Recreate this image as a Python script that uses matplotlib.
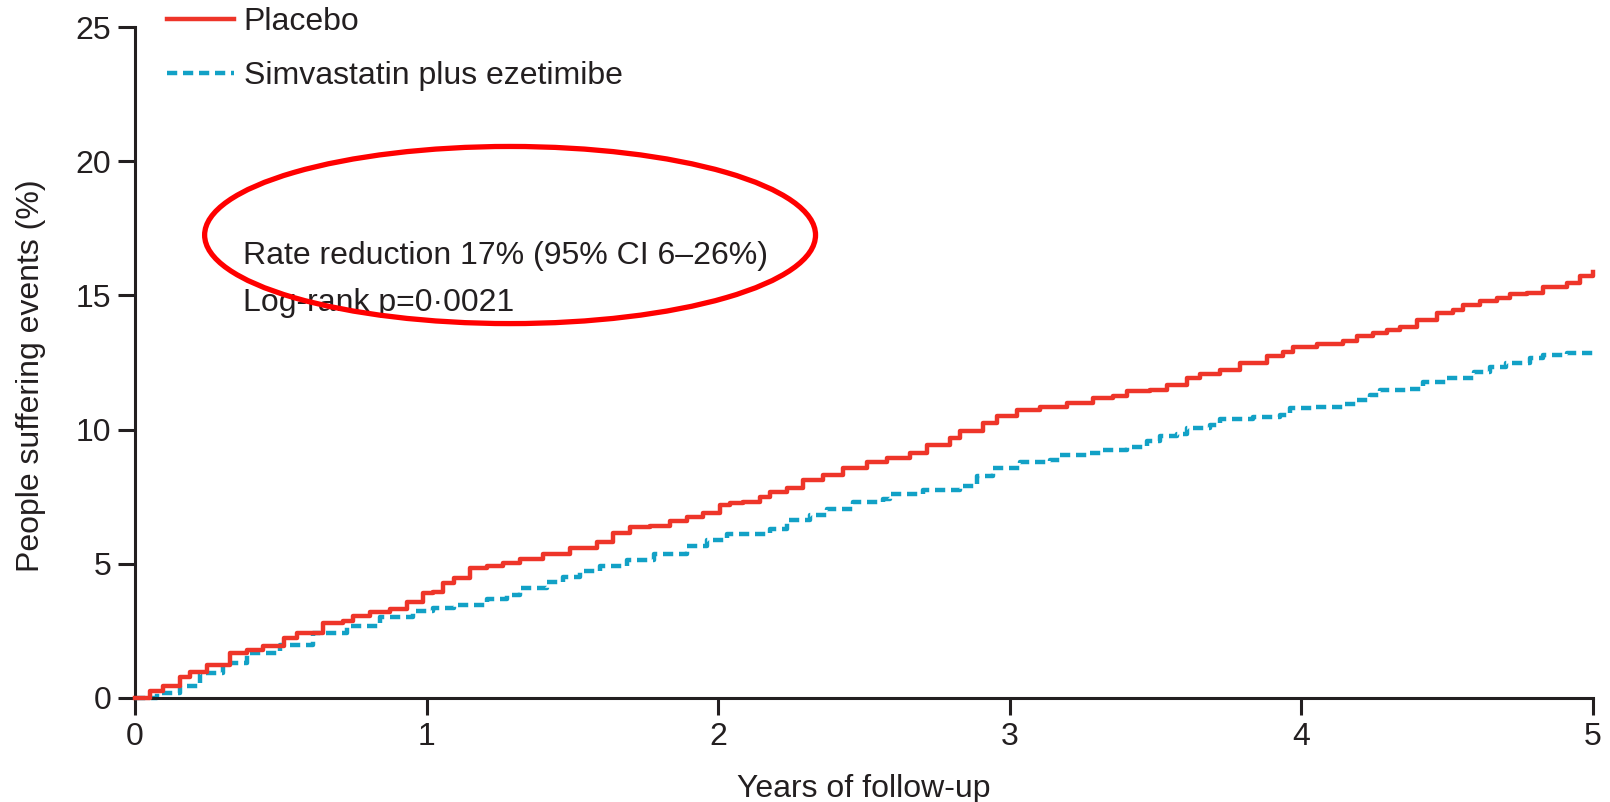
import matplotlib
matplotlib.use("Agg")
import matplotlib.pyplot as plt
from matplotlib.patches import Ellipse

placebo_t = [0.000, 0.051, 0.097, 0.154, 0.189, 0.246, 0.326, 0.383, 0.440, 0.509,
             0.554, 0.646, 0.714, 0.749, 0.806, 0.875, 0.932, 0.989, 1.023, 1.057,
             1.092, 1.149, 1.206, 1.263, 1.320, 1.400, 1.492, 1.583, 1.640, 1.698,
             1.766, 1.835, 1.892, 1.949, 2.006, 2.040, 2.086, 2.143, 2.178, 2.235,
             2.292, 2.360, 2.429, 2.509, 2.578, 2.658, 2.715, 2.795, 2.829, 2.909,
             2.955, 3.024, 3.104, 3.195, 3.286, 3.355, 3.401, 3.481, 3.538, 3.607,
             3.652, 3.721, 3.790, 3.881, 3.938, 3.972, 4.052, 4.144, 4.189, 4.246,
             4.292, 4.338, 4.395, 4.464, 4.521, 4.555, 4.612, 4.669, 4.715, 4.772,
             4.829, 4.909, 4.955, 5.000]
placebo_pct = [0.00, 0.25, 0.44, 0.80, 0.98, 1.23, 1.66, 1.79, 1.95, 2.22,
               2.41, 2.78, 2.86, 3.07, 3.21, 3.32, 3.57, 3.92, 3.96, 4.28,
               4.46, 4.84, 4.93, 5.04, 5.18, 5.38, 5.59, 5.83, 6.15, 6.36,
               6.40, 6.58, 6.75, 6.90, 7.20, 7.27, 7.31, 7.48, 7.69, 7.81,
               8.12, 8.31, 8.56, 8.81, 8.94, 9.13, 9.44, 9.69, 9.93, 10.25,
               10.49, 10.72, 10.86, 10.98, 11.16, 11.25, 11.42, 11.47, 11.66, 11.91,
               12.09, 12.22, 12.47, 12.74, 12.90, 13.09, 13.19, 13.31, 13.49, 13.61,
               13.71, 13.81, 14.08, 14.33, 14.46, 14.64, 14.80, 14.89, 15.05, 15.10,
               15.33, 15.48, 15.72, 15.89]

combo_t = [0.000, 0.074, 0.154, 0.223, 0.303, 0.383, 0.497, 0.611, 0.726, 0.840,
           0.954, 1.023, 1.092, 1.206, 1.275, 1.320, 1.412, 1.469, 1.526, 1.595,
           1.686, 1.778, 1.892, 1.960, 2.029, 2.178, 2.235, 2.315, 2.372, 2.463,
           2.566, 2.589, 2.703, 2.829, 2.886, 2.943, 3.035, 3.138, 3.172, 3.275,
           3.321, 3.401, 3.470, 3.515, 3.572, 3.607, 3.687, 3.721, 3.835, 3.927,
           3.961, 4.041, 4.144, 4.189, 4.235, 4.269, 4.361, 4.418, 4.498, 4.590,
           4.647, 4.703, 4.783, 4.829, 4.909, 5.000]
combo_pct = [0.00, 0.19, 0.44, 0.94, 1.31, 1.68, 1.99, 2.43, 2.67, 3.03,
             3.24, 3.34, 3.46, 3.69, 3.85, 4.10, 4.31, 4.50, 4.72, 4.91,
             5.13, 5.38, 5.68, 5.90, 6.12, 6.30, 6.65, 6.80, 7.05, 7.29,
             7.42, 7.61, 7.74, 7.89, 8.28, 8.56, 8.78, 8.87, 9.06, 9.12,
             9.25, 9.35, 9.56, 9.77, 9.84, 10.05, 10.18, 10.39, 10.46, 10.55,
             10.80, 10.86, 10.96, 11.11, 11.30, 11.47, 11.53, 11.78, 11.91, 12.16,
             12.35, 12.49, 12.65, 12.77, 12.86, 12.92]

x_ticks = [0, 1, 2, 3, 4, 5]
y_ticks = [0, 5, 10, 15, 20, 25]
stats_lines = ["Rate reduction 17% (95% CI 6\u201326%)", "Log-rank p=0\u00b70021"]

INK = "#231f20"
RED = "#ee3529"
BLUE = "#12a1c6"
FS = 23

plt.rcParams["font.family"] = ["Liberation Sans", "DejaVu Sans"]
plt.rcParams["text.color"] = INK

fig = plt.figure(figsize=(16.10, 8.02), dpi=100)
ax = fig.add_axes([0.0839, 0.1297, 0.9056, 0.8366])

ax.step(placebo_t, placebo_pct, where="post", color=RED, lw=3.2,
        label="Placebo", clip_on=False, zorder=3)
ax.step(combo_t, combo_pct, where="post", color=BLUE, lw=3.2,
        dashes=(2.3, 1.3), label="Simvastatin plus ezetimibe",
        clip_on=False, zorder=2)

ax.set_xlim(0, 5)
ax.set_ylim(0, 25)
ax.set_xticks(x_ticks)
ax.set_yticks(y_ticks)
ax.tick_params(length=12, width=2.2, color=INK, labelsize=FS,
               labelcolor=INK, pad=5)
for side in ("top", "right"):
    ax.spines[side].set_visible(False)
for side in ("left", "bottom"):
    ax.spines[side].set_linewidth(2.2)
    ax.spines[side].set_color(INK)

ax.set_xlabel("Years of follow-up", fontsize=FS, color=INK)
ax.set_ylabel("People suffering events (%)", fontsize=FS, color=INK)
ax.xaxis.set_label_coords(0.5, -0.114)
ax.yaxis.set_label_coords(-0.061, 0.48)

# statistics block with the red ring drawn around it
ax.text(0.37, 16.48, stats_lines[0], fontsize=FS, va="center", ha="left")
ax.text(0.37, 14.72, stats_lines[1], fontsize=FS, va="center", ha="left")
ax.add_patch(Ellipse((1.286, 17.25), 2.095, 6.6, fill=False,
                     edgecolor="#ff0000", lw=3.8, zorder=4))

ax.legend(loc="upper left", bbox_to_anchor=(0.1037, 0.991),
          bbox_transform=fig.transFigure, frameon=False, fontsize=FS,
          handlelength=2.1, handletextpad=0.3, labelspacing=0.74,
          borderpad=0.0, borderaxespad=0.0)

fig.savefig("out.png", dpi=100)
